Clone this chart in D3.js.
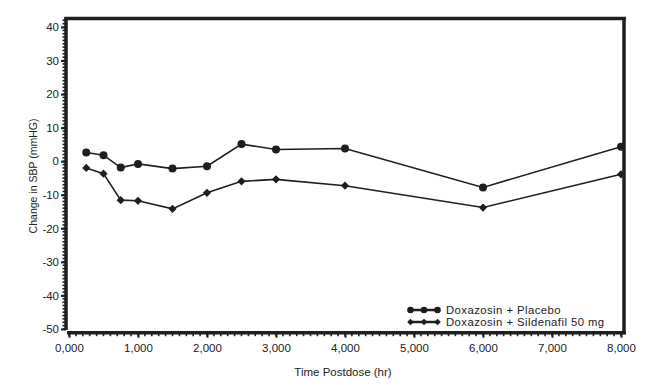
<!DOCTYPE html>
<html><head><meta charset="utf-8">
<script src="https://cdn.jsdelivr.net/npm/d3@7"></script>
<style>body{margin:0;background:#fff}svg{display:block}text{font-family:"Liberation Sans",Arial,sans-serif;fill:#222}</style>
</head><body><svg id="c" width="670" height="385"></svg>
<script>
const times = [0.25, 0.5, 0.75, 1.0, 1.5, 2.0, 2.5, 3.0, 4.0, 6.0, 8.0];
const placebo = [2.6, 1.8, -1.9, -0.8, -2.2, -1.5, 5.1, 3.5, 3.8, -7.8, 4.3];
const sildenafil = [-2.0, -3.7, -11.6, -11.8, -14.2, -9.4, -6.0, -5.4, -7.3, -13.8, -3.9];
const seriesNames = ["Doxazosin + Placebo", "Doxazosin + Sildenafil 50 mg"];
const xTicks = [0, 1, 2, 3, 4, 5, 6, 7, 8];
const yTicks = [40, 30, 20, 10, 0, -10, -20, -30, -40, -50];

const svg = d3.select("#c");
const x = d3.scaleLinear().domain([0, 8]).range([69, 621]);
const y = d3.scaleLinear().domain([-50, 40]).range([329, 27]);
const ink = "#1e1e1e";
const FONT = "Liberation Sans, Arial, sans-serif";

const topY = y(42.5), rightX = 624, leftX = 66, botY = 332.7;
svg.append("line").attr("x1", leftX - 1.5).attr("x2", rightX + 2).attr("y1", topY).attr("y2", topY).attr("stroke", ink).attr("stroke-width", 3.5);
svg.append("line").attr("x1", rightX).attr("x2", rightX).attr("y1", topY).attr("y2", botY + 1.5).attr("stroke", ink).attr("stroke-width", 3.5);

// Y axis
const yMinor = d3.range(-50, 43, 1);
const yAx = svg.append("g").attr("transform", `translate(${leftX},0)`);
yAx.selectAll(".mn").data(yMinor).join("line").attr("x1", -3.5).attr("x2", 0)
  .attr("y1", d => y(d)).attr("y2", d => y(d)).attr("stroke", ink).attr("stroke-width", 1.6);
yAx.call(d3.axisLeft(y).tickValues(yTicks).tickSize(5).tickPadding(2).tickFormat(d => String(d)))
  .call(g => g.select(".domain").remove())
  .call(g => g.selectAll(".tick line").attr("stroke", ink).attr("stroke-width", 2))
  .call(g => g.selectAll(".tick text").attr("font-size", 11.5).attr("font-family", FONT).attr("fill", "#222"));
yAx.append("line").attr("x1", 0).attr("x2", 0).attr("y1", topY - 1.7).attr("y2", 330).attr("stroke", ink).attr("stroke-width", 3.5);

// X axis
const xMinor = d3.range(0, 8.001, 0.1);
const xAx = svg.append("g").attr("transform", `translate(0,${botY})`);
xAx.selectAll(".mn").data(xMinor).join("line").attr("y1", 0).attr("y2", 3.5)
  .attr("x1", d => x(d)).attr("x2", d => x(d)).attr("stroke", ink).attr("stroke-width", 1.6);
xAx.call(d3.axisBottom(x).tickValues(xTicks).tickSize(5).tickPadding(6).tickFormat(d => d3.format(".3f")(d).replace(".", ",")))
  .call(g => g.select(".domain").remove())
  .call(g => g.selectAll(".tick line").attr("stroke", ink).attr("stroke-width", 2))
  .call(g => g.selectAll(".tick text").attr("font-size", 11.5).attr("font-family", FONT).attr("fill", "#222"));
xAx.append("line").attr("x1", 67).attr("x2", rightX + 1.7).attr("y1", 0).attr("y2", 0).attr("stroke", ink).attr("stroke-width", 3.5);

// titles
svg.append("text").attr("x", 343).attr("y", 376).attr("text-anchor", "middle").attr("font-size", 11.5).text("Time Postdose (hr)");
svg.append("text").attr("transform", "translate(37,176) rotate(-90)").attr("text-anchor", "middle").attr("font-size", 10.5).text("Change in SBP (mmHG)");

// series
const line = d3.line().x(d => x(d[0])).y(d => y(d[1]));
const sq = d3.symbol().type(d3.symbolSquare);
function drawSeries(vals, shape) {
  const pts = times.map((t, i) => [t, vals[i]]);
  svg.append("path").attr("d", line(pts)).attr("fill", "none").attr("stroke", ink).attr("stroke-width", 1.6);
  if (shape === "circle") {
    svg.selectAll(null).data(pts).join("circle").attr("cx", d => x(d[0])).attr("cy", d => y(d[1])).attr("r", 4).attr("fill", ink);
  } else {
    svg.selectAll(null).data(pts).join("path").attr("d", sq.size(34)())
      .attr("transform", d => `translate(${x(d[0])},${y(d[1])}) rotate(45)`).attr("fill", ink);
  }
}
drawSeries(placebo, "circle");
drawSeries(sildenafil, "diamond");

// legend
const lg = svg.append("g");
const legY = [310, 322];
const shapes = ["circle", "diamond"];
seriesNames.forEach((n, i) => {
  const yy = legY[i];
  lg.append("line").attr("x1", 409).attr("x2", 439).attr("y1", yy).attr("y2", yy).attr("stroke", ink).attr("stroke-width", 2.5);
  [410.5, 424, 437.5].forEach(px => {
    if (shapes[i] === "circle") lg.append("circle").attr("cx", px).attr("cy", yy).attr("r", 3.3).attr("fill", ink);
    else lg.append("path").attr("d", d3.symbol().type(d3.symbolSquare).size(22)()).attr("transform", `translate(${px},${yy}) rotate(45)`).attr("fill", ink);
  });
  lg.append("text").attr("x", 446).attr("y", yy + 4).attr("font-size", 11.3).attr("letter-spacing", 0.45).text(n);
});
</script></body></html>
